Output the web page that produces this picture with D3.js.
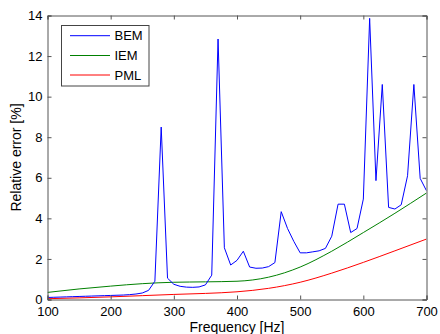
<!DOCTYPE html>
<html><head><meta charset="utf-8">
<script src="https://cdn.jsdelivr.net/npm/d3@7"></script>
<style>
body{margin:0;background:#fff;}
svg{display:block;font-family:"Liberation Sans",Arial,sans-serif;}
</style></head>
<body><svg id="c" width="440" height="334"></svg>
<script>
const freqBEM = d3.range(100, 701, 10);
const bem = [0.1,0.11,0.12,0.13,0.14,0.15,0.16,0.17,0.18,0.19,
             0.2,0.21,0.22,0.24,0.27,0.32,0.45,0.9,8.5,1.05,
             0.75,0.65,0.61,0.6,0.62,0.72,1.2,12.84,2.55,1.7,
             1.93,2.38,1.6,1.54,1.55,1.62,1.82,4.33,3.5,2.86,
             2.3,2.3,2.35,2.4,2.52,3.12,4.7,4.7,3.3,3.5,
             4.95,13.86,5.86,10.6,4.54,4.46,4.67,6.1,10.6,5.97,5.36];
const freqSmooth = [100,150,200,250,300,350,400,450,500,550,600,650,700];
const iem = [0.35,0.52,0.66,0.78,0.85,0.87,0.9,1.1,1.6,2.38,3.3,4.25,5.25];
const pml = [0.04,0.08,0.13,0.19,0.25,0.3,0.38,0.55,0.85,1.3,1.83,2.4,2.98];
const xTicks = [100,200,300,400,500,600,700];
const yTicks = [0,2,4,6,8,10,12,14];
const seriesNames = ["BEM","IEM","PML"];
const seriesColors = ["#0000ff","#008000","#ff0000"];

const svg = d3.select("#c");
const L=47.5, R=426.5, T=15.5, B=299.5;
const x = d3.scaleLinear().domain([100,700]).range([L,R]);
const y = d3.scaleLinear().domain([0,14]).range([B,T]);

svg.append("clipPath").attr("id","pc").append("rect")
  .attr("x",L).attr("y",T).attr("width",R-L).attr("height",B-T);

const g = svg.append("g").attr("clip-path","url(#pc)");
const lineLin = d3.line().x(d=>x(d[0])).y(d=>y(d[1]));
const lineSm = d3.line().x(d=>x(d[0])).y(d=>y(d[1])).curve(d3.curveMonotoneX);

g.append("path").datum(freqSmooth.map((f,i)=>[f,iem[i]])).attr("d",lineSm)
  .attr("fill","none").attr("stroke",seriesColors[1]).attr("stroke-width",1);
g.append("path").datum(freqSmooth.map((f,i)=>[f,pml[i]])).attr("d",lineSm)
  .attr("fill","none").attr("stroke",seriesColors[2]).attr("stroke-width",1);
g.append("path").datum(freqBEM.map((f,i)=>[f,bem[i]])).attr("d",lineLin)
  .attr("fill","none").attr("stroke",seriesColors[0]).attr("stroke-width",1);

const axCol="#555";
const fs=13;
const xb = svg.append("g").attr("transform",`translate(0,${B})`)
  .call(d3.axisBottom(x).tickValues(xTicks).tickSize(-4).tickPadding(7).tickFormat(d3.format("d")));
const xt = svg.append("g").attr("transform",`translate(0,${T})`)
  .call(d3.axisTop(x).tickValues(xTicks).tickSize(-4).tickFormat(""));
const yl = svg.append("g").attr("transform",`translate(${L},0)`)
  .call(d3.axisLeft(y).tickValues(yTicks).tickSize(-4).tickPadding(5).tickFormat(d3.format("d")));
const yr = svg.append("g").attr("transform",`translate(${R},0)`)
  .call(d3.axisRight(y).tickValues(yTicks).tickSize(-4).tickFormat(""));
[xb,xt,yl,yr].forEach(a=>{
  a.selectAll(".domain").attr("stroke",axCol);
  a.selectAll(".tick line").attr("stroke",axCol);
  a.selectAll("text").attr("fill","#000").style("font-size",fs+"px")
   .style("font-family","'Liberation Sans',Arial,sans-serif");
});

svg.append("text").attr("x",(L+R)/2).attr("y",332).attr("text-anchor","middle")
  .style("font-size","14px").text("Frequency [Hz]");
svg.append("text").attr("transform",`translate(21,${(T+B)/2}) rotate(-90)`)
  .attr("text-anchor","middle").style("font-size","14px").text("Relative error [%]");

const lg = svg.append("g");
lg.append("rect").attr("x",61.5).attr("y",25.5).attr("width",87.5).attr("height",60.5)
  .attr("fill","#fff").attr("stroke","#444").attr("stroke-width",1);
const ly=[35.7,55.5,75];
seriesNames.forEach((n,i)=>{
  lg.append("line").attr("x1",70).attr("x2",110).attr("y1",ly[i]).attr("y2",ly[i])
    .attr("stroke",seriesColors[i]).attr("stroke-width",1);
  lg.append("text").attr("x",114.5).attr("y",ly[i]).attr("dy","0.36em")
    .style("font-size","13px").text(n);
});
</script></body></html>
